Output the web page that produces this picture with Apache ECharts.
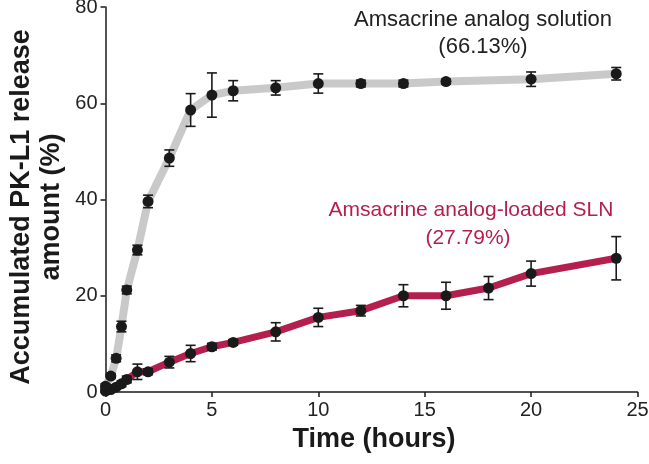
<!DOCTYPE html>
<html>
<head>
<meta charset="utf-8">
<script src="https://cdn.jsdelivr.net/npm/echarts@6/dist/echarts.min.js"></script>
<style>
html,body{margin:0;padding:0;background:#fff;}
#chart{width:649px;height:464px;}
</style>
</head>
<body>
<div id="chart"></div>
<script>
// ---- Data ----
const timeSolution = [0, 0.25, 0.5, 0.75, 1, 1.5, 2, 3, 4, 5, 6, 8, 10, 12, 14, 16, 20, 24];
const solution     = [1.2, 3.3, 7.0, 13.6, 21.2, 29.5, 39.6, 48.6, 58.6, 61.7, 62.6, 63.2, 64.1, 64.1, 64.1, 64.5, 65.0, 66.13];
const solutionErr  = [0.5, 0.5, 0.7, 1.1, 0.8, 1.0, 1.3, 1.7, 3.4, 4.6, 2.1, 1.5, 2.0, 0.7, 0.7, 0.5, 1.5, 1.3];

const timeSLN = [0, 0.25, 0.5, 0.75, 1, 1.5, 2, 3, 4, 5, 6, 8, 10, 12, 14, 16, 18, 20, 24];
const sln     = [0.2, 0.5, 1.0, 1.7, 2.6, 4.2, 4.2, 6.2, 8.0, 9.4, 10.3, 12.5, 15.5, 16.9, 20.0, 20.0, 21.6, 24.6, 27.79];
const slnErr  = [0.3, 0.3, 0.4, 0.6, 0.7, 1.6, 0.6, 1.2, 1.7, 0.7, 0.6, 1.9, 1.9, 1.1, 2.3, 2.8, 2.4, 2.6, 4.5];

const xTicks = [0, 5, 10, 15, 20, 25];
const yTicks = [0, 20, 40, 60, 80];

const labelSolution = ['Amsacrine analog solution', '(66.13%)'];
const labelSLN = ['Amsacrine analog-loaded SLN', '(27.79%)'];
const xTitle = 'Time (hours)';
const yTitle = ['Accumulated PK-L1 release', 'amount (%)'];

// ---- Chart ----
const FONT = '"Liberation Sans", Arial, sans-serif';
const chart = echarts.init(document.getElementById('chart'), null, {renderer: 'canvas'});

function pairs(xs, ys) { return xs.map((x, i) => [x, ys[i]]); }
function errData(xs, ys, es) { return xs.map((x, i) => [x, ys[i] - es[i], ys[i] + es[i]]); }

function errRender(params, api) {
  const x = api.value(0), lo = api.value(1), hi = api.value(2);
  const p1 = api.coord([x, hi]);
  const p2 = api.coord([x, lo]);
  const w = 5;
  const style = {stroke: '#1a1a1a', lineWidth: 1.6, fill: null};
  return {
    type: 'group',
    children: [
      {type: 'line', shape: {x1: p1[0], y1: p1[1], x2: p2[0], y2: p2[1]}, style},
      {type: 'line', shape: {x1: p1[0] - w, y1: p1[1], x2: p1[0] + w, y2: p1[1]}, style},
      {type: 'line', shape: {x1: p2[0] - w, y1: p2[1], x2: p2[0] + w, y2: p2[1]}, style}
    ]
  };
}

const option = {
  animation: false,
  backgroundColor: '#fff',
  grid: {left: 105.5, right: 11.5, top: 7, bottom: 72, containLabel: false, outerBoundsMode: 'none'},
  xAxis: {
    type: 'value', min: 0, max: 25, interval: 5,
    axisLine: {show: true, lineStyle: {color: '#1a1a1a', width: 1.5}},
    axisTick: {show: true, inside: false, length: 5, lineStyle: {color: '#1a1a1a', width: 1.5}},
    splitLine: {show: false},
    axisLabel: {color: '#222', fontSize: 20, fontFamily: FONT, margin: 8,
      formatter: v => xTicks.includes(v) ? String(v) : ''}
  },
  yAxis: {
    type: 'value', min: 0, max: 80, interval: 20,
    axisLine: {show: true, lineStyle: {color: '#1a1a1a', width: 1.5}},
    axisTick: {show: true, inside: false, length: 5, lineStyle: {color: '#1a1a1a', width: 1.5}},
    splitLine: {show: false},
    axisLabel: {color: '#222', fontSize: 20, fontFamily: FONT, margin: 8,
      formatter: v => yTicks.includes(v) ? String(v) : ''}
  },
  series: [
    {
      type: 'line', data: pairs(timeSolution, solution), z: 2,
      lineStyle: {color: '#c9c9c9', width: 8, cap: 'round', join: 'round'},
      symbol: 'circle', symbolSize: 11, showAllSymbol: true,
      itemStyle: {color: '#1a1a1a'}
    },
    {
      type: 'custom', data: errData(timeSolution, solution, solutionErr), z: 3,
      renderItem: errRender, encode: {x: 0, y: [1, 2]}
    },
    {
      type: 'line', data: pairs(timeSLN, sln), z: 4,
      lineStyle: {color: '#b51f4d', width: 7, cap: 'round', join: 'round'},
      symbol: 'circle', symbolSize: 11, showAllSymbol: true,
      itemStyle: {color: '#1a1a1a'}
    },
    {
      type: 'custom', data: errData(timeSLN, sln, slnErr), z: 5,
      renderItem: errRender, encode: {x: 0, y: [1, 2]}
    }
  ],
  graphic: [
    {type: 'text', x: 483, y: 20, style: {text: labelSolution[0], fill: '#222', font: '22px ' + FONT, textAlign: 'center', textVerticalAlign: 'middle'}},
    {type: 'text', x: 483, y: 47, style: {text: labelSolution[1], fill: '#222', font: '22px ' + FONT, textAlign: 'center', textVerticalAlign: 'middle'}},
    {type: 'text', x: 471, y: 210, style: {text: labelSLN[0], fill: '#b51f4d', font: '21px ' + FONT, textAlign: 'center', textVerticalAlign: 'middle'}},
    {type: 'text', x: 468, y: 238, style: {text: labelSLN[1], fill: '#b51f4d', font: '21px ' + FONT, textAlign: 'center', textVerticalAlign: 'middle'}},
    {type: 'text', x: 374, y: 440, style: {text: xTitle, fill: '#1a1a1a', font: 'bold 27px ' + FONT, textAlign: 'center', textVerticalAlign: 'middle'}},
    {type: 'text', x: 22, y: 207, rotation: Math.PI / 2, style: {text: yTitle[0], fill: '#1a1a1a', font: 'bold 27px ' + FONT, textAlign: 'center', textVerticalAlign: 'middle'}},
    {type: 'text', x: 52, y: 207, rotation: Math.PI / 2, style: {text: yTitle[1], fill: '#1a1a1a', font: 'bold 27px ' + FONT, textAlign: 'center', textVerticalAlign: 'middle'}}
  ]
};
chart.setOption(option);
</script>
</body>
</html>
